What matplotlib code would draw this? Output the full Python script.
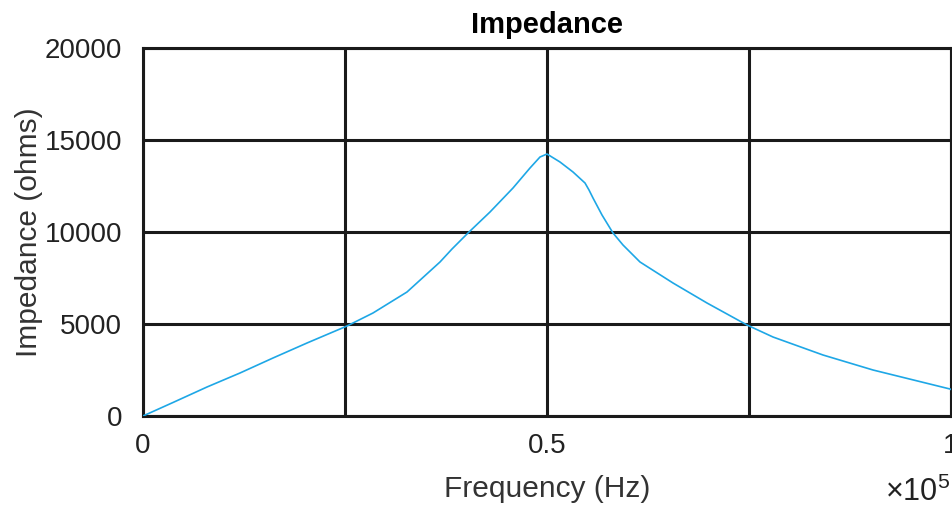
import numpy as np
import matplotlib.pyplot as plt

plt.rcParams['font.family'] = ['Liberation Sans', 'DejaVu Sans']
plt.rcParams['mathtext.fontset'] = 'custom'
plt.rcParams['mathtext.rm'] = 'Liberation Sans'

# frequency (Hz) and impedance (ohms)
freq = [0, 3713, 7921, 12005, 16089, 20297, 25248, 28465, 32673, 36757,
        38243, 40223, 42946, 45792, 47896, 49134, 50000, 51609, 53218,
        54703, 55198, 55693, 56807, 58168, 59406, 61510, 65594, 69802,
        74752, 77970, 84158, 90347, 99876, 100000]
imp = [0, 734, 1576, 2337, 3152, 3967, 4891, 5598, 6739, 8370,
       9076, 9946, 11087, 12391, 13478, 14076, 14239, 13804, 13261,
       12663, 12283, 11848, 10924, 9946, 9293, 8370, 7228, 6141,
       4946, 4293, 3315, 2500, 1467, 1440]

xticks = [0, 50000, 100000]
xticklabels = ['0', '0.5', '1']
yticks = [0, 5000, 10000, 15000, 20000]

fig = plt.figure(figsize=(9.52, 5.08), dpi=100)
ax = fig.add_axes([143/952, 92/508, 808/952, 368/508])

ax.plot(freq, imp, color='#1ea7e6', lw=1.2, zorder=3)

ax.set_xlim(0, 100000)
ax.set_ylim(0, 20000)
ax.set_xticks(xticks, xticklabels)
ax.set_xticks([25000, 75000], minor=True)
ax.set_yticks(yticks, [str(v) for v in yticks])
ax.tick_params(which='both', length=0, labelsize=20, colors='#222222')
ax.tick_params(axis='x', pad=12)
ax.tick_params(axis='y', pad=15)
ax.grid(True, which='both', color='#1a1a1a', lw=2.2)
for s in ax.spines.values():
    s.set_color('#1a1a1a')
    s.set_linewidth(2.2)

ax.set_title('Impedance', fontsize=21, fontweight='bold', pad=11)
ax.set_xlabel('Frequency (Hz)', fontsize=21.5, color='#333333', labelpad=12)
ax.set_ylabel('Impedance (ohms)', fontsize=21.5, color='#333333', labelpad=1)

fig.text(0.998, 0.0, r'$\mathregular{\times10^5}$', fontsize=22, ha='right',
         va='bottom', color='#222222')

fig.savefig('out.png', dpi=100)
